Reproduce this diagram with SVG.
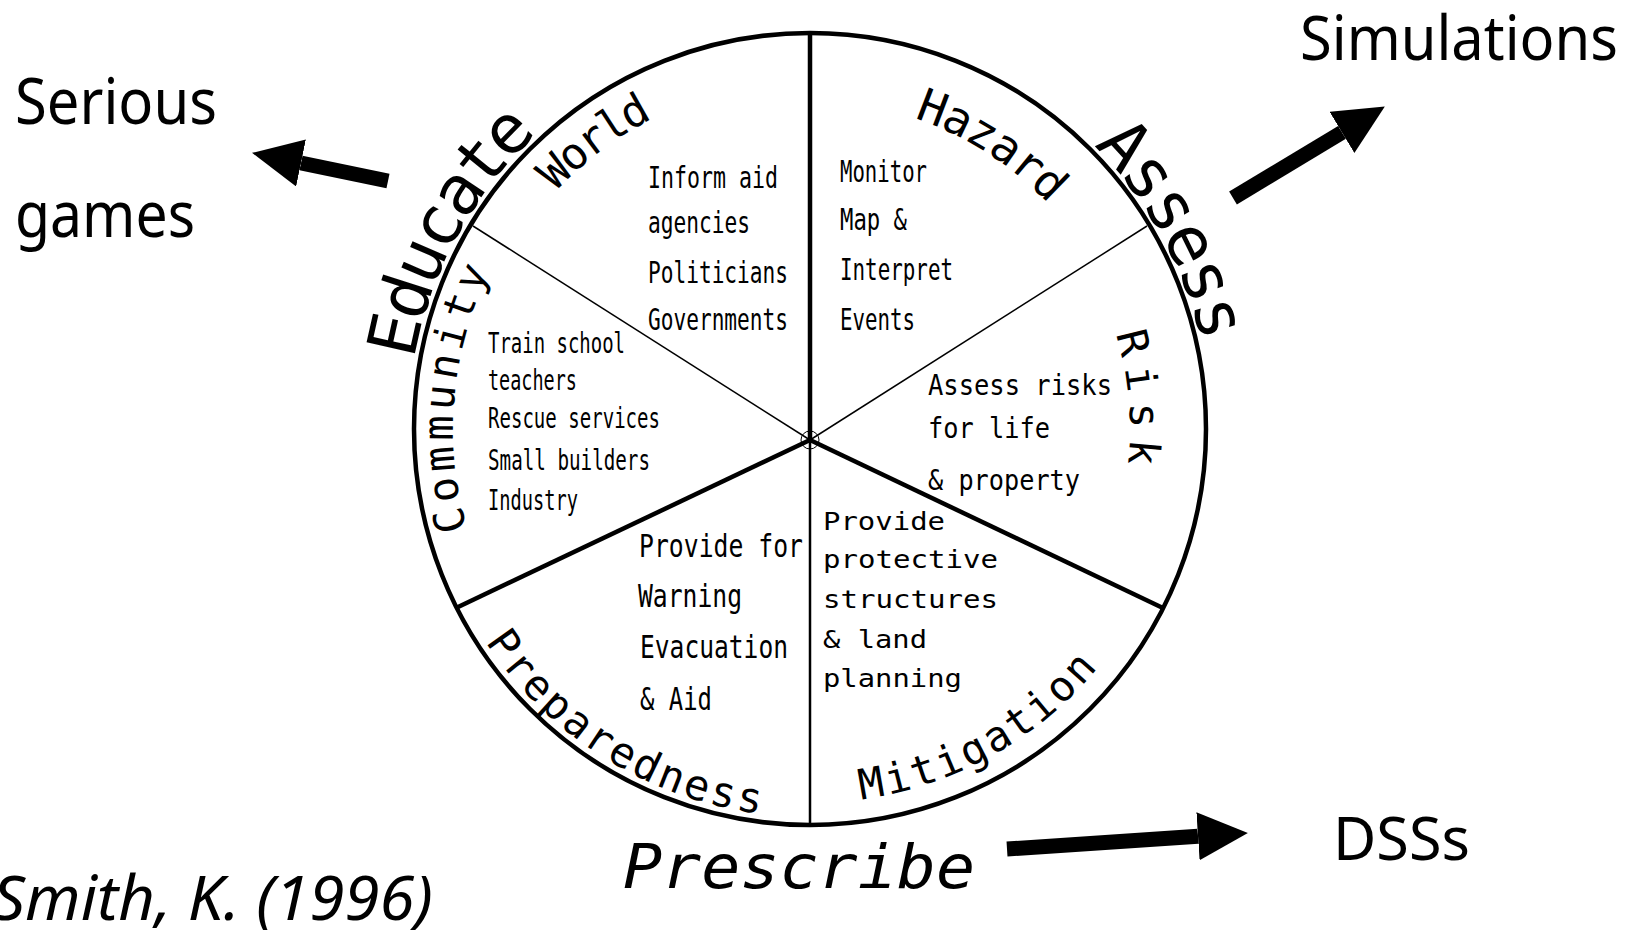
<svg xmlns="http://www.w3.org/2000/svg" width="1625" height="930" viewBox="0 0 1625 930">
<style>
  .mono{font-family:"DejaVu Sans Mono","Liberation Mono",monospace;fill:#000}
  .sans{font-family:"Noto Sans","Open Sans","Liberation Sans",sans-serif;fill:#000}
  .rim{fill:none;stroke:#000;stroke-width:4.5}
  .thick{stroke:#000;stroke-width:4.5;fill:none}
  .mid{stroke:#000;stroke-width:2.5;fill:none}
  .thin{stroke:#000;stroke-width:1.5;fill:none}
  .arrow{stroke:#000;stroke-width:15;fill:none;marker-end:url(#head)}
</style>
<defs>
  <marker id="head" markerUnits="userSpaceOnUse" markerWidth="50" markerHeight="48" viewBox="0 0 50 48" refX="0" refY="24" orient="auto">
    <path d="M0,0 L50,24 L0,48 Z" fill="#000"/>
  </marker>
  <path id="pEducate" d="M415.65,507.08 A402,402 0 0 1 664.63,54.21"/>
  <path id="pAssess" d="M956.97,55.90 A401,401 0 0 1 1202.95,508.95"/>
  <path id="pWorld" d="M490.14,291.91 A348,348 0 0 1 768.79,83.45"/>
  <path id="pHazard" d="M824.31,101.31 A328,328 0 0 1 1100.94,277.55"/>
  <path id="pRisk" d="M1071.32,244.31 A320,320 0 0 1 1100.60,562.97"/>
  <path id="pCommunity" d="M486.45,579.87 A357,357 0 0 1 517.56,224.23"/>
  <path id="pPrep" d="M452.32,579.36 A388,388 0 0 0 828.95,816.54"/>
  <path id="pMit" d="M770.58,800.92 A374,374 0 0 0 1146.01,593.25"/>
</defs>
<rect width="1625" height="930" fill="#fff"/>

<g id="wheel">
  <circle class="rim" cx="810" cy="429" r="396"/>
  <line class="thick" x1="810" y1="33" x2="810" y2="440"/>
  <line class="mid" x1="810" y1="440" x2="810" y2="824"/>
  <line class="thin" x1="810" y1="440" x2="473" y2="226"/>
  <line class="thin" x1="810" y1="440" x2="1147" y2="226"/>
  <line class="thick" x1="810" y1="440" x2="457" y2="607.5"/>
  <line class="thick" x1="810" y1="440" x2="1164" y2="608.5"/>
  <circle cx="810" cy="440" r="9" fill="none" stroke="#000" stroke-width="1"/>
</g>

<g id="educate">
  <text class="mono" font-size="68" letter-spacing="-4"><textPath href="#pEducate" startOffset="49.5%" text-anchor="middle">Educate</textPath></text>
</g>
<g id="assess">
  <text class="mono" font-size="68" letter-spacing="-3.5"><textPath href="#pAssess" startOffset="49.5%" text-anchor="middle">Assess</textPath></text>
</g>
<g id="prescribe">
  <text class="mono" x="623" y="888" font-size="60" font-style="oblique" textLength="352" lengthAdjust="spacingAndGlyphs">Prescribe</text>
</g>

<g id="world">
  <text class="mono" font-size="44" letter-spacing="-2.5"><textPath href="#pWorld" startOffset="49.5%" text-anchor="middle">World</textPath></text>
  <g class="mono" font-size="31">
    <text x="648" y="188" textLength="130" lengthAdjust="spacingAndGlyphs">Inform aid</text>
    <text x="648" y="233" textLength="102" lengthAdjust="spacingAndGlyphs">agencies</text>
    <text x="648" y="283" textLength="140" lengthAdjust="spacingAndGlyphs">Politicians</text>
    <text x="648" y="330" textLength="140" lengthAdjust="spacingAndGlyphs">Governments</text>
  </g>
</g>

<g id="hazard">
  <text class="mono" font-size="46" letter-spacing="-1"><textPath href="#pHazard" startOffset="50%" text-anchor="middle">Hazard</textPath></text>
  <g class="mono" font-size="30">
    <text x="840" y="182" textLength="87" lengthAdjust="spacingAndGlyphs">Monitor</text>
    <text x="840" y="230" textLength="67" lengthAdjust="spacingAndGlyphs">Map &amp;</text>
    <text x="840" y="280" textLength="113" lengthAdjust="spacingAndGlyphs">Interpret</text>
    <text x="840" y="330" textLength="75" lengthAdjust="spacingAndGlyphs">Events</text>
  </g>
</g>

<g id="risk">
  <text class="mono" font-size="42" letter-spacing="10"><textPath href="#pRisk" startOffset="51%" text-anchor="middle">Risk</textPath></text>
  <g class="mono" font-size="27.5">
    <text x="928" y="395" textLength="184" lengthAdjust="spacingAndGlyphs">Assess risks</text>
    <text x="928" y="438" textLength="122" lengthAdjust="spacingAndGlyphs">for life</text>
    <text x="928" y="490" textLength="152" lengthAdjust="spacingAndGlyphs">&amp; property</text>
  </g>
</g>

<g id="community">
  <text class="mono" font-size="42" letter-spacing="4.6"><textPath href="#pCommunity" startOffset="50.5%" text-anchor="middle">Community</textPath></text>
  <g class="mono" font-size="29">
    <text x="488" y="353" textLength="137" lengthAdjust="spacingAndGlyphs">Train school</text>
    <text x="488" y="390" textLength="89" lengthAdjust="spacingAndGlyphs">teachers</text>
    <text x="488" y="428" textLength="172" lengthAdjust="spacingAndGlyphs">Rescue services</text>
    <text x="488" y="470" textLength="162" lengthAdjust="spacingAndGlyphs">Small builders</text>
    <text x="488" y="510" textLength="90" lengthAdjust="spacingAndGlyphs">Industry</text>
  </g>
</g>

<g id="preparedness">
  <text class="mono" font-size="42" letter-spacing="2.8"><textPath href="#pPrep" startOffset="50.5%" text-anchor="middle">Preparedness</textPath></text>
  <g class="mono" font-size="32">
    <text x="639" y="557" textLength="164" lengthAdjust="spacingAndGlyphs">Provide for</text>
    <text x="638" y="607" textLength="104" lengthAdjust="spacingAndGlyphs">Warning</text>
    <text x="640" y="658" textLength="148" lengthAdjust="spacingAndGlyphs">Evacuation</text>
    <text x="640" y="710" textLength="72" lengthAdjust="spacingAndGlyphs">&amp; Aid</text>
  </g>
</g>

<g id="mitigation">
  <text class="mono" font-size="42" letter-spacing="2.7"><textPath href="#pMit" startOffset="50.5%" text-anchor="middle">Mitigation</textPath></text>
  <g class="mono" font-size="25">
    <text x="823" y="530" textLength="122" lengthAdjust="spacingAndGlyphs">Provide</text>
    <text x="823" y="568" textLength="175" lengthAdjust="spacingAndGlyphs">protective</text>
    <text x="823" y="608" textLength="175" lengthAdjust="spacingAndGlyphs">structures</text>
    <text x="823" y="648" textLength="104" lengthAdjust="spacingAndGlyphs">&amp; land</text>
    <text x="823" y="687" textLength="139" lengthAdjust="spacingAndGlyphs">planning</text>
  </g>
</g>

<g id="connectors">
  <path class="arrow" d="M388,181 L301,163"/>
  <path class="arrow" d="M1233,198 L1342,132.4"/>
  <path class="arrow" d="M1007,849 L1198,836.3"/>
</g>

<g id="serious-games">
  <text class="sans" x="15" y="124" font-size="64" textLength="202" lengthAdjust="spacingAndGlyphs">Serious</text>
  <text class="sans" x="15" y="237" font-size="64" textLength="180" lengthAdjust="spacingAndGlyphs">games</text>
</g>
<g id="simulations">
  <text class="sans" x="1300" y="60" font-size="62" textLength="318" lengthAdjust="spacingAndGlyphs">Simulations</text>
</g>
<g id="dsss">
  <text class="sans" x="1333" y="860" font-size="60" textLength="137" lengthAdjust="spacingAndGlyphs">DSSs</text>
</g>
<g id="citation">
  <text class="sans" x="-7" y="920" font-size="62" font-style="italic" textLength="440" lengthAdjust="spacingAndGlyphs">Smith, K. (1996)</text>
</g>
</svg>
